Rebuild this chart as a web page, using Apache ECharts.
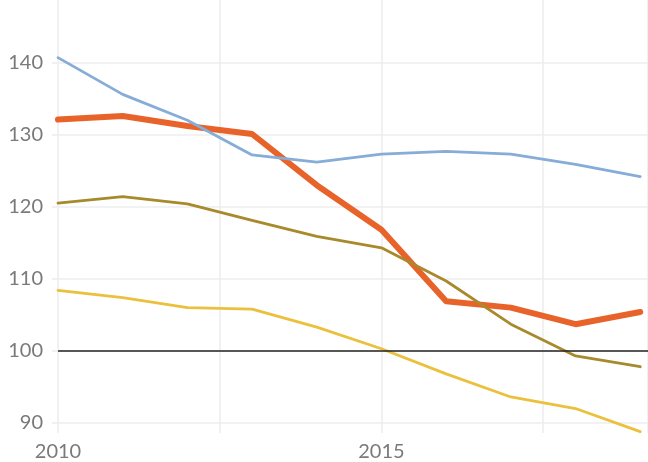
<!DOCTYPE html>
<html>
<head>
<meta charset="utf-8">
<script src="https://cdn.jsdelivr.net/npm/echarts@6/dist/echarts.min.js"></script>
<style>
  html, body { margin: 0; padding: 0; background: #fff; }
  #chart { width: 648px; height: 462px; }
</style>
</head>
<body>
<div id="chart"></div>
<script>
const years = [2010, 2011, 2012, 2013, 2014, 2015, 2016, 2017, 2018, 2019];
const yTicks = [90, 100, 110, 120, 130, 140];
const xLabels = [2010, 2015];

const orangeVals = [132.1, 132.6, 131.2, 130.1, 123.0, 116.8, 106.9, 106.0, 103.7, 105.4];
const oliveVals = [120.5, 121.4, 120.4, 118.1, 115.9, 114.3, 109.7, 103.7, 99.3, 97.8];
const blueVals = [140.7, 135.6, 132.0, 127.2, 126.2, 127.3, 127.7, 127.3, 125.9, 124.2];
const yellowVals = [108.4, 107.4, 106.0, 105.8, 103.3, 100.3, 96.8, 93.6, 92.0, 88.8];

const baseline = 100;

const pairs = (vals) => years.map((y, i) => [y, vals[i]]);

function line(name, vals, color, width, z) {
  return {
    name: name,
    type: "line",
    data: pairs(vals),
    symbol: "none",
    z: z,
    lineStyle: { color: color, width: width, cap: "round", join: "round" },
    animation: false,
  };
}

const chart = echarts.init(document.getElementById("chart"));

chart.setOption({
  backgroundColor: "#fff",
  grid: { left: 58, right: 0, top: 0, bottom: 28 },
  xAxis: {
    type: "value",
    min: 2010,
    max: 2019.12,
    interval: 2.5,
    axisLine: { show: false },
    axisTick: { show: false },
    axisLabel: {
      customValues: xLabels,
      formatter: (v) => String(v),
      color: "#7a7a7a",
      fontFamily: "Lato",
      fontSize: 20,
      margin: 9,
    },
    splitLine: { show: true, lineStyle: { color: "#ececec", width: 1.5 } },
  },
  yAxis: {
    type: "value",
    min: 88.6,
    max: 148.7,
    axisLine: { show: false },
    axisTick: {
      show: true,
      customValues: yTicks,
      length: 6,
      lineStyle: { color: "#f0f0f0", width: 2 },
    },
    axisLabel: {
      customValues: yTicks,
      color: "#7a7a7a",
      fontFamily: "Lato",
      fontSize: 20,
      margin: 15,
    },
    splitLine: { show: true, lineStyle: { color: "#f2f2f2", width: 2 } },
  },
  series: [
    Object.assign(line("orange", orangeVals, "#e8632a", 6, 2), {
      markLine: {
        silent: true,
        symbol: "none",
        label: { show: false },
        lineStyle: { color: "#222", width: 1.5, type: "solid" },
        data: [{ yAxis: baseline }],
      },
    }),
    line("olive", oliveVals, "#a8892c", 2.8, 3),
    line("blue", blueVals, "#86acd8", 2.8, 3),
    line("yellow", yellowVals, "#ebc03c", 2.8, 3),
  ],
});
</script>
</body>
</html>
